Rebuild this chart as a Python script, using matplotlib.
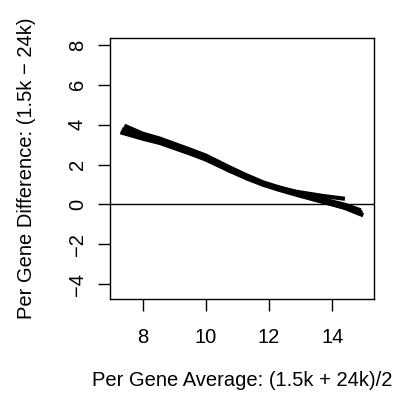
import matplotlib
matplotlib.use("Agg")
import matplotlib.pyplot as plt

plt.rcParams['font.family'] = ['Liberation Sans', 'DejaVu Sans']

# several loess fits (per-gene average vs per-gene difference)
x1 = [7.35, 8.0, 8.55, 9.5, 10.0, 10.76, 11.3, 11.82, 12.3, 12.87, 13.71, 14.4, 14.95]
y1 = [3.70, 3.40, 3.15, 2.60, 2.30, 1.70, 1.30, 0.98, 0.74, 0.48, 0.12, -0.16, -0.45]
x2 = [7.42, 8.0, 8.55, 9.5, 10.0, 10.76, 11.3, 11.82, 12.3, 12.87, 13.71, 14.4, 14.90]
y2 = [3.95, 3.55, 3.30, 2.75, 2.45, 1.85, 1.45, 1.10, 0.86, 0.60, 0.25, -0.02, -0.30]
x3 = [7.30, 8.0, 8.55, 9.5, 10.0, 10.76, 11.3, 11.82, 12.3, 12.87, 13.71, 14.40]
y3 = [3.62, 3.30, 3.08, 2.55, 2.25, 1.68, 1.32, 1.04, 0.84, 0.63, 0.42, 0.28]
x4 = [7.45, 8.0, 8.55, 9.5, 10.0, 10.76, 11.3, 11.82, 12.3, 12.87, 13.71, 14.4, 14.98]
y4 = [3.85, 3.48, 3.22, 2.68, 2.38, 1.78, 1.38, 1.04, 0.80, 0.52, 0.14, -0.18, -0.55]
x5 = [7.35, 8.0, 8.55, 9.5, 10.0, 10.76, 11.3, 11.82, 12.3, 12.87, 13.71, 14.4, 14.92]
y5 = [3.78, 3.44, 3.20, 2.65, 2.35, 1.76, 1.36, 1.02, 0.78, 0.54, 0.20, -0.06, -0.38]
lines_x = [x1, x2, x3, x4, x5]
lines_y = [y1, y2, y3, y4, y5]

xticks = [8, 10, 12, 14]
yticks = [-4, -2, 0, 2, 4, 6, 8]
xlabel = "Per Gene Average: (1.5k + 24k)/2"
ylabel = "Per Gene Difference: (1.5k \u2212 24k)"

fig = plt.figure(figsize=(3.97, 3.95), dpi=100)
W, H = 397, 395
L, R, T, B = 110, 374, 38, 299
ax = fig.add_axes([L / W, 1 - B / H, (R - L) / W, (B - T) / H])

for xs, ys in zip(lines_x, lines_y):
    ax.plot(xs, ys, color='black', lw=3.0, solid_capstyle='butt', solid_joinstyle='round')
ax.axhline(0, color='black', lw=1.0)

ax.set_xlim(6.97, 15.32)
ax.set_ylim(-4.75, 8.35)
ax.set_xticks(xticks)
ax.set_yticks(yticks)
ax.set_xticklabels([str(t) for t in xticks])
ax.set_yticklabels([str(t).replace('-', '\u2212') for t in yticks], rotation=90, va='center')
ax.tick_params(direction='out', length=8.6, width=1, labelsize=14.5)
ax.tick_params(axis='x', pad=12)
ax.tick_params(axis='y', pad=8)
for s in ax.spines.values():
    s.set_linewidth(1.0)
ax.set_xlabel(xlabel, fontsize=14.5, va='center')
ax.set_ylabel(ylabel, fontsize=14.5, va='center')
ax.xaxis.set_label_coords(0.5, (B - 380) / (B - T))
ax.yaxis.set_label_coords((27 - L) / (R - L), 0.5)

fig.savefig("out.png", dpi=100)
